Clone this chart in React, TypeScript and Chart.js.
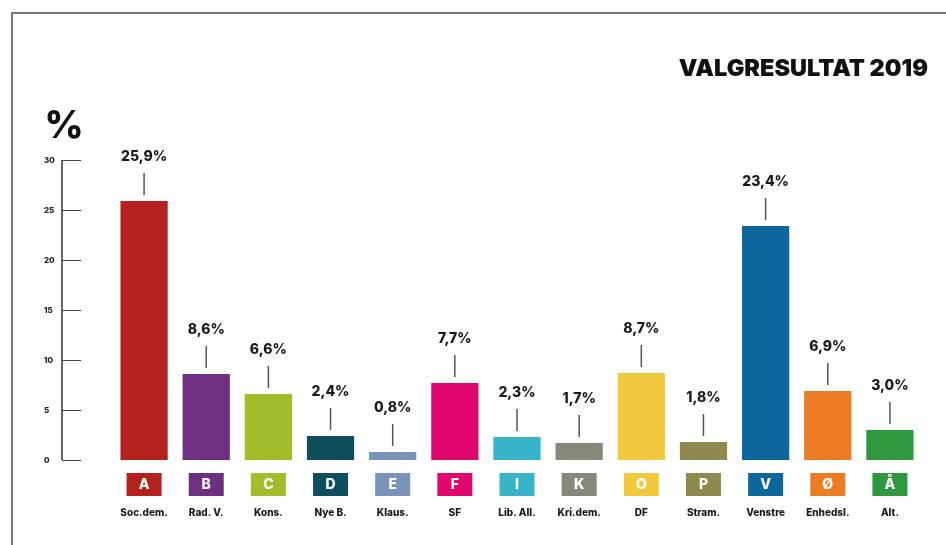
import React, { useEffect, useRef } from "react";
import { Chart, registerables } from "chart.js";

Chart.register(...registerables);

const letters = ["A", "B", "C", "D", "E", "F", "I", "K", "O", "P", "V", "Ø", "Å"];
const partyNames = ["Soc.dem.", "Rad. V.", "Kons.", "Nye B.", "Klaus.", "SF", "Lib. All.", "Kri.dem.", "DF", "Stram.", "Venstre", "Enhedsl.", "Alt."];
const results = [25.9, 8.6, 6.6, 2.4, 0.8, 7.7, 2.3, 1.7, 8.7, 1.8, 23.4, 6.9, 3.0];
const partyColors = ["#b4221f", "#6f2f80", "#a2bd2b", "#0e4e5c", "#7b93b9", "#e0086f", "#38b4c8", "#87887b", "#f0c93e", "#8e8a4f", "#0d679c", "#ec7b24", "#2f983f"];
const yTicks = [0, 5, 10, 15, 20, 25, 30];
const title = "VALGRESULTAT 2019";

const FONT = "Inter, 'Liberation Sans', sans-serif";

const decorPlugin = {
  id: "decor",
  afterDraw(chart: any) {
    const ctx = chart.ctx as CanvasRenderingContext2D;
    const y = chart.scales.y;
    const meta = chart.getDatasetMeta(0);
    ctx.save();

    // frame
    ctx.strokeStyle = "#7a7a7a";
    ctx.lineWidth = 2;
    ctx.beginPath();
    ctx.moveTo(12, 545);
    ctx.lineTo(12, 13);
    ctx.lineTo(946, 13);
    ctx.stroke();

    // title
    ctx.fillStyle = "#111";
    ctx.font = `900 23.5px ${FONT}`;
    ctx.textAlign = "right";
    ctx.textBaseline = "middle";
    ctx.fillText(title, 928, 69);

    // % sign
    ctx.font = `800 38px ${FONT}`;
    ctx.textAlign = "center";
    ctx.fillText("%", 64, 127);

    // y axis
    const axisX = 62;
    ctx.strokeStyle = "#333";
    ctx.lineWidth = 1.5;
    ctx.beginPath();
    ctx.moveTo(axisX, y.getPixelForValue(30));
    ctx.lineTo(axisX, y.getPixelForValue(0));
    ctx.stroke();
    ctx.font = `800 8px ${FONT}`;
    ctx.textAlign = "left";
    yTicks.forEach((t) => {
      const py = Math.round(y.getPixelForValue(t)) + 0.5;
      ctx.strokeStyle = "#444";
      ctx.lineWidth = 1;
      ctx.beginPath();
      ctx.moveTo(axisX, py);
      ctx.lineTo(81, py);
      ctx.stroke();
      ctx.fillStyle = "#222";
      ctx.fillText(String(t), 44, py);
    });

    // value labels, leader lines, badges and names
    meta.data.forEach((bar: any, i: number) => {
      const cx = bar.x;
      const top = bar.y;
      ctx.strokeStyle = "#555";
      ctx.lineWidth = 1.5;
      ctx.beginPath();
      ctx.moveTo(cx, top - 28);
      ctx.lineTo(cx, top - 6);
      ctx.stroke();

      ctx.fillStyle = "#1a1a1a";
      ctx.font = `800 14px ${FONT}`;
      ctx.textAlign = "center";
      ctx.textBaseline = "middle";
      ctx.fillText(results[i].toFixed(1).replace(".", ",") + "%", cx, top - 44);

      ctx.fillStyle = partyColors[i];
      ctx.fillRect(cx - 17.5, 473, 35, 23);
      ctx.fillStyle = "#fff";
      ctx.font = `800 14px ${FONT}`;
      ctx.fillText(letters[i], cx, 485);

      ctx.fillStyle = "#1a1a1a";
      ctx.font = `800 10px ${FONT}`;
      ctx.fillText(partyNames[i], cx, 513);
    });
    ctx.restore();
  },
};

export default function App() {
  const ref = useRef<HTMLCanvasElement | null>(null);
  useEffect(() => {
    document.body.style.margin = "0";
    const chart = new Chart(ref.current!, {
      type: "bar",
      data: {
        labels: letters,
        datasets: [
          {
            data: results,
            backgroundColor: partyColors,
            categoryPercentage: 1,
            barPercentage: 0.76,
          },
        ],
      },
      options: {
        animation: false,
        responsive: false,
        events: [],
        layout: { padding: { left: 113, right: 25, top: 160, bottom: 85 } },
        plugins: { legend: { display: false }, tooltip: { enabled: false } },
        scales: {
          x: { display: false, offset: true },
          y: { display: false, min: 0, max: 30 },
        },
      },
      plugins: [decorPlugin],
    });
    return () => chart.destroy();
  }, []);
  return (
    <div style={{ position: "absolute", left: 0, top: 0, width: 946, height: 545, background: "#fff" }}>
      <canvas ref={ref} width={946} height={545} style={{ display: "block" }} />
    </div>
  );
}
